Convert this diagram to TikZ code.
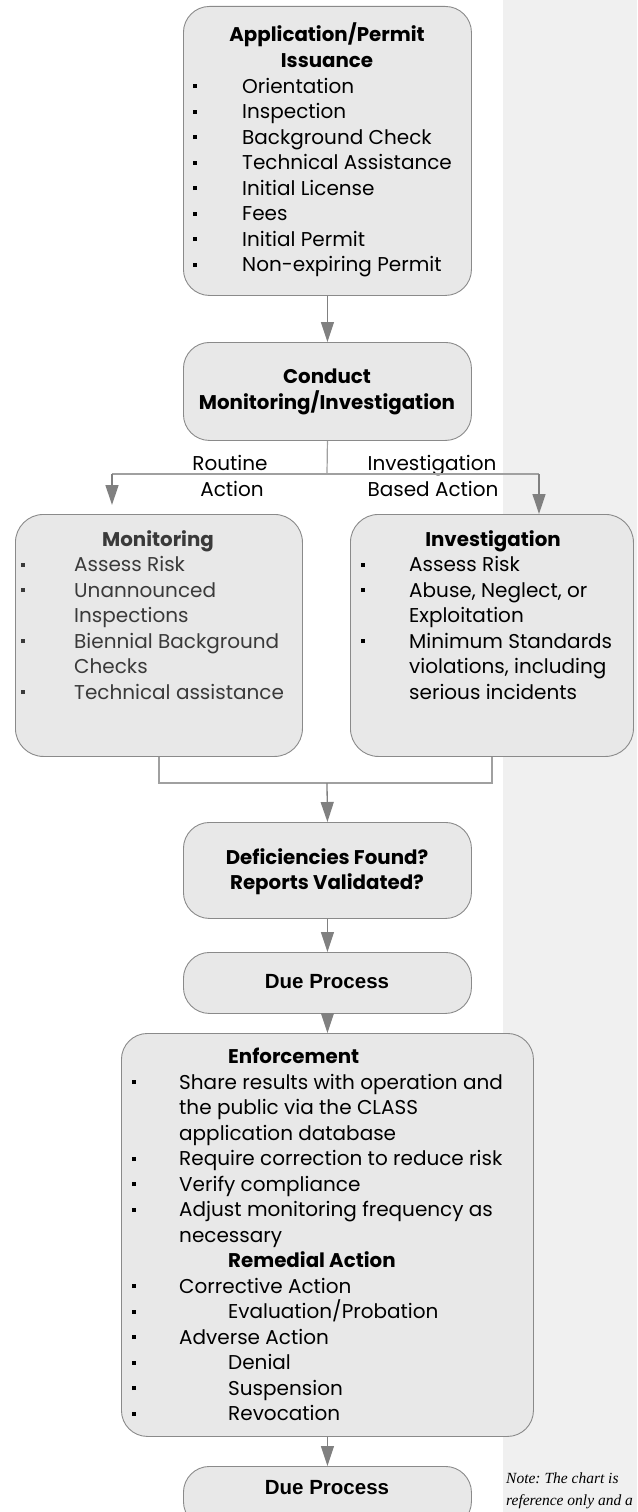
\documentclass[tikz,border=0pt]{standalone}
\usepackage{fontspec}
\setmainfont{Poppins}
\newfontfamily\arialf{Liberation Sans}
\newfontfamily\notef{Liberation Serif}
\usetikzlibrary{arrows.meta}
\definecolor{boxfill}{HTML}{E8E8E8}
\definecolor{boxline}{HTML}{8A8A8A}
\definecolor{arrowc}{HTML}{808080}
\definecolor{linec}{HTML}{A0A0A0}
\definecolor{stripc}{HTML}{F0F0F0}
\definecolor{monoc}{HTML}{3A3A3A}
\newcommand\bul[1]{\makebox[#1][l]{\raisebox{5pt}{\rule{3.6pt}{3.6pt}}}}
\tikzset{
  box/.style={draw=boxline, fill=boxfill, line width=0.9pt, rounded corners=26pt, inner sep=0pt, anchor=north west},
  arr/.style={draw=arrowc, line width=1.3pt, -{Triangle[length=20pt,width=13pt]}},
  lin/.style={draw=linec, line width=1.2pt},
  txt/.style={inner sep=0pt, anchor=base west, font=\fontsize{20}{24}\selectfont},
  ttl/.style={inner sep=0pt, anchor=base, font=\fontsize{19.8}{24}\selectfont\bfseries},
  lab/.style={inner sep=0pt, anchor=base, font=\fontsize{20}{24}\selectfont},
  due/.style={inner sep=0pt, anchor=base, font=\fontsize{20.5}{24}\selectfont\arialf\bfseries},
  note/.style={inner sep=0pt, anchor=base west, font=\fontsize{15.5}{22}\selectfont\notef\itshape\frenchspacing},
}
\begin{document}
\begin{tikzpicture}[x=1pt,y=-1pt]
\useasboundingbox (0,0) rectangle (637,1512);
\fill[stripc] (503,0) rectangle (637,1512);
% boxes
\node[box, minimum width=288pt, minimum height=289pt] (app) at (183,6) {};
\node[box, minimum width=288pt, minimum height=98pt] (cond) at (183,342) {};
\node[box, minimum width=287pt, minimum height=242pt, rounded corners=28pt] (mon) at (15,514) {};
\node[box, minimum width=283pt, minimum height=242pt, rounded corners=28pt] (inv) at (350,514) {};
\node[box, minimum width=288pt, minimum height=96pt] (def) at (183,822) {};
\node[box, minimum width=288pt, minimum height=61pt] (due1) at (183,952) {};
\node[box, minimum width=412pt, minimum height=403pt] (enf) at (121,1033) {};
\node[box, minimum width=288pt, minimum height=61pt] (due2) at (183,1466) {};
% box 1 text
\node[ttl] (a0) at (327,42) {Application/Permit};
\node[ttl] (a00) at (327,67) {Issuance};
\node[txt] (a1) at (193,93) {\bul{49pt}Orientation};
\node[txt] (a2) at (193,118.5) {\bul{49pt}Inspection};
\node[txt] (a3) at (193,144) {\bul{49pt}Background Check};
\node[txt] (a4) at (193,169.5) {\bul{49pt}Technical Assistance};
\node[txt] (a5) at (193,195) {\bul{49pt}Initial License};
\node[txt] (a6) at (193,220.5) {\bul{49pt}Fees};
\node[txt] (a7) at (193,246) {\bul{49pt}Initial Permit};
\node[txt] (a8) at (193,271.5) {\bul{49pt}Non-expiring Permit};
% conduct
\node[ttl] (c1) at (327,383) {Conduct};
\node[ttl] (c2) at (327,409) {Monitoring/Investigation};
% labels
\node[lab] (l1) at (230,470) {Routine};
\node[lab] (l2) at (232,496) {Action};
\node[lab] (l3) at (432,470) {Investigation};
\node[lab] (l4) at (433,496) {Based Action};
% monitoring
\node[ttl, text=monoc] (m0) at (158,546) {Monitoring};
\node[txt, text=monoc] (m1) at (21,571.5) {\bul{53pt}Assess Risk};
\node[txt, text=monoc] (m2) at (21,597) {\bul{53pt}Unannounced};
\node[txt, text=monoc] (m3) at (74,622.5) {Inspections};
\node[txt, text=monoc] (m4) at (21,648) {\bul{53pt}Biennial Background};
\node[txt, text=monoc] (m5) at (74,673.5) {Checks};
\node[txt, text=monoc] (m6) at (21,699) {\bul{53pt}Technical assistance};
% investigation
\node[ttl] (i0) at (493,546) {Investigation};
\node[txt] (i1) at (361,571.5) {\bul{48pt}Assess Risk};
\node[txt] (i2) at (361,597) {\bul{48pt}Abuse, Neglect, or};
\node[txt] (i3) at (409,622.5) {Exploitation};
\node[txt] (i4) at (361,648) {\bul{48pt}Minimum Standards};
\node[txt] (i5) at (409,673.5) {violations, including};
\node[txt] (i6) at (409,699) {serious incidents};
% deficiencies
\node[ttl] (d1) at (327,864) {Deficiencies Found?};
\node[ttl] (d2) at (327,889) {Reports Validated?};
\node[due] (p1) at (327,988) {Due Process};
% enforcement
\node[txt, font=\fontsize{19.8}{24}\selectfont\bfseries] (e0) at (228,1063) {Enforcement};
\node[txt] (e1) at (132,1089) {\bul{47pt}Share results with operation and};
\node[txt] (e2) at (179,1114.5) {the public via the CLASS};
\node[txt] (e3) at (179,1140) {application database};
\node[txt] (e4) at (132,1165.5) {\bul{47pt}Require correction to reduce risk};
\node[txt] (e5) at (132,1191) {\bul{47pt}Verify compliance};
\node[txt] (e6) at (132,1216.5) {\bul{47pt}Adjust monitoring frequency as};
\node[txt] (e7) at (179,1242) {necessary};
\node[txt, font=\fontsize{19.8}{24}\selectfont\bfseries] (e8) at (228,1267.5) {Remedial Action};
\node[txt] (e9) at (132,1293) {\bul{47pt}Corrective Action};
\node[txt] (e10) at (132,1318.5) {\bul{96pt}Evaluation/Probation};
\node[txt] (e11) at (132,1344) {\bul{47pt}Adverse Action};
\node[txt] (e12) at (132,1369.5) {\bul{96pt}Denial};
\node[txt] (e13) at (132,1395) {\bul{96pt}Suspension};
\node[txt] (e14) at (132,1420.5) {\bul{96pt}Revocation};
\node[due] (p2) at (327,1494) {Due Process};
% note
\node[note] (n1) at (506,1483) {Note: The chart is};
\node[note] (n2) at (506,1505) {reference only and a};
% connectors
\coordinate (split) at (327,474);
\coordinate (splitL) at (112,474);
\coordinate (splitR) at (539,474);
\coordinate (tipL) at (112,505);
\coordinate (merge) at (327,783);
\draw[arr] (app.south) -- (cond.north);
\draw[lin] (cond.south) -- (split);
\draw[lin] (splitL) -- (splitR);
\draw[arr] (splitL) -- (tipL);
\draw[arr] (splitR) -- (splitR |- inv.north);
\draw[lin] (mon.south) |- (merge) -| (inv.south);
\draw[arr] (merge) -- (def.north);
\draw[arr] (def.south) -- (due1.north);
\draw[arr] (due1.south) -- (enf.north);
\draw[arr] (enf.south) -- (due2.north);
\end{tikzpicture}
\end{document}
